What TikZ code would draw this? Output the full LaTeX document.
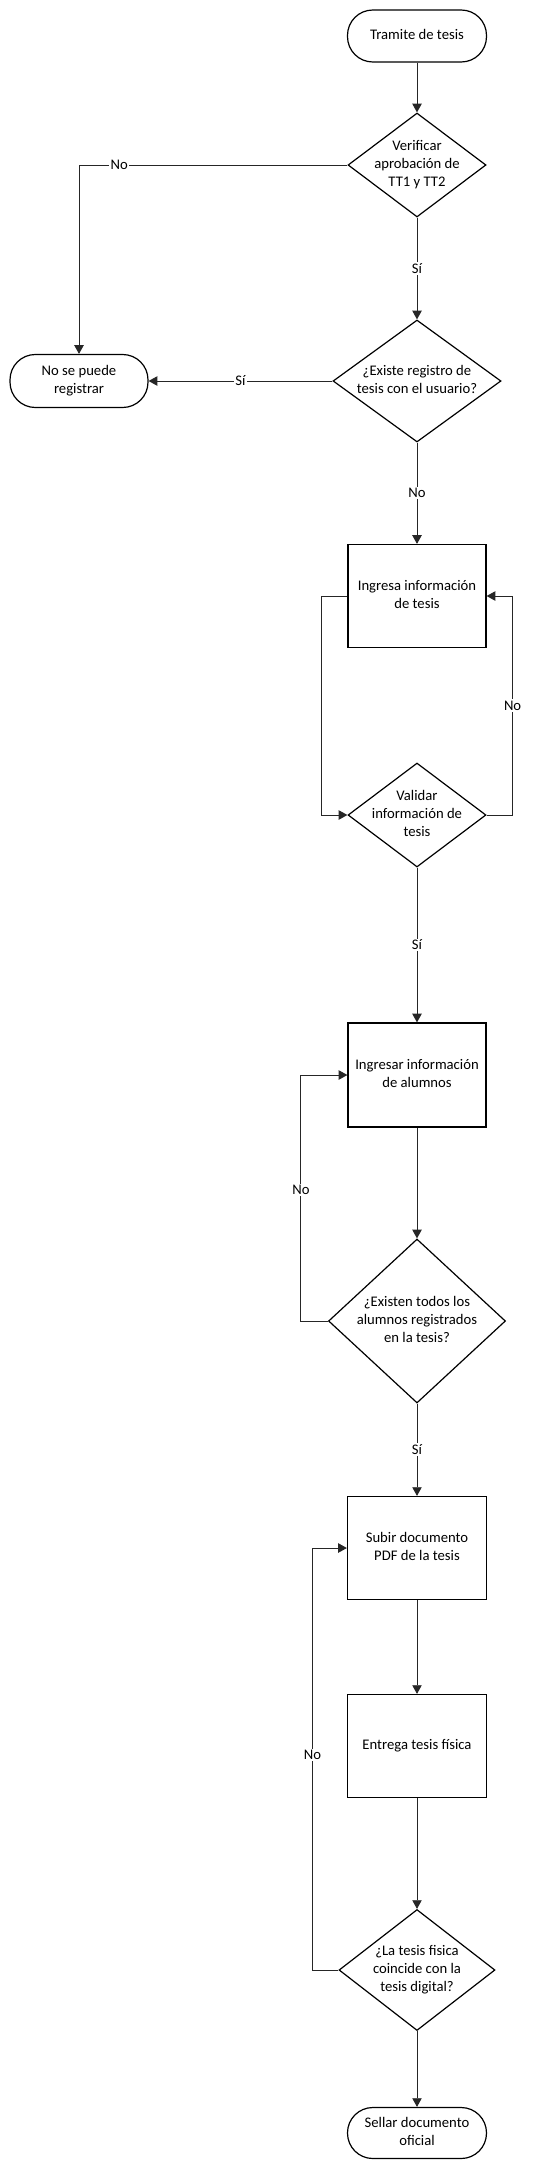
\documentclass[tikz,border=0pt]{standalone}
\usepackage{fontspec}
\setmainfont{Carlito}
\usetikzlibrary{arrows.meta,shapes.geometric}
\newcommand\ctext[1]{\makebox[0pt]{\raisebox{-2.6pt}[0pt][0pt]{\begin{tabular}{@{}c@{}}#1\end{tabular}}}}
\begin{document}
\begin{tikzpicture}[x=0.75pt,y=-0.75pt,
  shapebase/.style={draw=black, line width=0.9pt, fill=white, inner sep=0pt, font=\fontsize{11}{13.5}\selectfont},
  termbox/.style 2 args={shapebase, rectangle, rounded corners=19pt, minimum width=#1, minimum height=#2},
  procbox/.style 2 args={shapebase, rectangle, minimum width=#1, minimum height=#2},
  decbox/.style 2 args={shapebase, diamond, minimum width=#1, minimum height=#2},
  conn/.style={line width=0.7pt, draw=black!85, -{Triangle[length=6.5pt,width=7pt]}},
  lab/.style={fill=white, inner sep=1pt, text=black, font=\fontsize{11}{13.5}\selectfont}]
\useasboundingbox (0,0) rectangle (538,2170);
\fill[white] (0,0) rectangle (538,2170);

\node[termbox={104.25pt}{39pt}] (start) at (417,36) {\ctext{Tramite de tesis}};
\node[decbox={103.5pt}{78pt}] (d1) at (417,165) {\ctext{Verificar\\aprobación de\\TT1 y TT2}};
\node[decbox={126pt}{91.5pt}] (d2) at (417,381) {\ctext{¿Existe registro de\\tesis con el usuario?}};
\node[termbox={103.5pt}{39.75pt}] (nsp) at (79,381) {\ctext{No se puede\\registrar}};
\node[procbox={103.5pt}{77.25pt}] (b1) at (417,596) {\ctext{Ingresa información\\de tesis}};
\node[decbox={103.5pt}{78pt}] (d3) at (417,815) {\ctext{Validar\\información de\\tesis}};
\node[procbox={103.5pt}{78pt}] (b2) at (417,1075) {\ctext{Ingresar información\\de alumnos}};
\node[decbox={132.75pt}{123pt}] (d4) at (417,1321) {\ctext{¿Existen todos los\\alumnos registrados\\en la tesis?}};
\node[procbox={104.25pt}{77.25pt}] (b3) at (417,1548) {\ctext{Subir documento\\PDF de la tesis}};
\node[procbox={104.25pt}{77.25pt}] (b4) at (417,1746) {\ctext{Entrega tesis física}};
\node[decbox={117pt}{90.75pt}] (d5) at (417,1970) {\ctext{¿La tesis fisica\\coincide con la\\tesis digital?}};
\node[termbox={104.25pt}{38.25pt}] (end) at (417,2133) {\ctext{Sellar documento\\oficial}};

\draw[conn] (start) -- (d1);
\draw[conn] (d1.west) -- node[lab,pos=0.85]{No} (nsp.north |- d1.west) -- (nsp.north);
\draw[conn] (d1) -- node[lab]{Sí} (d2);
\draw[conn] (d2.west) -- node[lab]{Sí} (nsp.east);
\draw[conn] (d2) -- node[lab]{No} (b1);
\draw[conn] (b1.west) -- ++(-26,0) |- (d3.west);
\draw[conn] (d3.east) -- ++(26,0) |- node[lab,pos=0.25]{No} (b1.east);
\draw[conn] (d3) -- node[lab]{Sí} (b2);
\draw[conn] (b2) -- (d4);
\draw[conn] (d4.west) -- ++(-27,0) |- node[lab,pos=0.266]{No} (b2.west);
\draw[conn] (d4) -- node[lab]{Sí} (b3);
\draw[conn] (b3) -- (b4);
\draw[conn] (b4) -- (d5);
\draw[conn] (d5.west) -- ++(-26,0) |- node[lab,pos=0.255]{No} (b3.west);
\draw[conn] (d5) -- (end);
\end{tikzpicture}
\end{document}
